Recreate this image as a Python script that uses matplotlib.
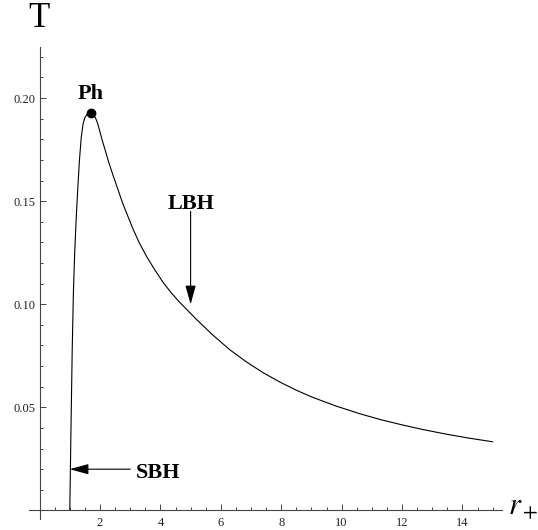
import matplotlib
matplotlib.use("Agg")
import matplotlib.pyplot as plt
from matplotlib.ticker import FixedLocator, FuncFormatter

plt.rcParams['font.family'] = ['Liberation Serif', 'DejaVu Serif']
plt.rcParams['mathtext.fontset'] = 'stix'

# Hawking temperature T against horizon radius r_+
r_plus = [1.00, 1.04, 1.08, 1.12, 1.16, 1.21, 1.26, 1.32, 1.38, 1.44, 1.50,
          1.57, 1.63, 1.70, 1.77, 1.85, 1.92, 2.00, 2.07, 2.15, 2.28, 2.43,
          2.76, 3.09, 3.30, 3.53, 3.80, 4.08, 4.36, 4.64, 5.19, 5.74, 6.30,
          6.84, 7.40, 7.95, 8.50, 9.05, 9.80, 10.60, 11.30, 12.00, 12.70,
          13.50, 14.20, 15.00]
temp = [0.000, 0.040, 0.078, 0.106, 0.124, 0.141, 0.155, 0.170, 0.181, 0.1875, 0.1905,
        0.1921, 0.1927, 0.1928, 0.1923, 0.1904, 0.1878, 0.1835, 0.1797, 0.1758, 0.1693, 0.1626,
        0.1486, 0.1366, 0.1298, 0.1235, 0.1170, 0.1108, 0.1055, 0.1009, 0.0927, 0.0850, 0.0779,
        0.0721, 0.0668, 0.0623, 0.0583, 0.0548, 0.0507, 0.0469, 0.0440, 0.0415, 0.0392,
        0.0369, 0.0351, 0.0333]

peak = (1.70, 0.1928)
lbh_tip, lbh_tail = (5.0, 0.100), (5.0, 0.145)
sbh_tip, sbh_tail = (1.0, 0.020), (3.0, 0.020)

x_major = [2, 4, 6, 8, 10, 12, 14]
x_minor = [0.5 * i for i in range(1, 31)]
y_major = [0.05, 0.10, 0.15, 0.20]
y_minor = [0.01 * i for i in range(1, 23)]

fig = plt.figure(figsize=(5.38, 5.30), dpi=100)
ax = fig.add_axes([0.0545, 0.0202, 0.878, 0.8917])

ax.plot(r_plus, temp, color='black', lw=0.8)
ax.plot(*peak, 'o', color='black', ms=6)

ax.set_xlim(-0.34, 15.30)
ax.set_ylim(-0.0043, 0.2249)

for side in ('top', 'right'):
    ax.spines[side].set_visible(False)
for side in ('left', 'bottom'):
    ax.spines[side].set_position(('data', 0))
    ax.spines[side].set_color('#444444')
    ax.spines[side].set_linewidth(0.8)

ax.xaxis.set_major_locator(FixedLocator(x_major))
ax.xaxis.set_minor_locator(FixedLocator(x_minor))
ax.yaxis.set_major_locator(FixedLocator(y_major))
ax.yaxis.set_minor_locator(FixedLocator(y_minor))
ax.yaxis.set_major_formatter(FuncFormatter(lambda v, p: f'{v:.2f}'))
ax.tick_params(which='both', direction='in', color='#444444', width=0.7,
               labelsize=9, labelcolor='#222222')
ax.tick_params(which='major', length=4.3)
ax.tick_params(which='minor', length=2.5)
ax.tick_params(axis='x', pad=5)
ax.tick_params(axis='y', pad=3.2)

arrow = dict(arrowstyle='-|>,head_length=0.72,head_width=0.2', mutation_scale=16,
             color='black', lw=0.8, shrinkA=0, shrinkB=0)
ax.annotate('', xy=lbh_tip, xytext=lbh_tail, arrowprops=arrow)
ax.annotate('', xy=sbh_tip, xytext=sbh_tail, arrowprops=arrow)

ax.text(peak[0] - 0.01, 0.1995, 'Ph', fontsize=16, fontweight='bold', ha='center', va='baseline')
ax.text(5.0, 0.1464, 'LBH', fontsize=16, fontweight='bold', ha='center', va='baseline')
ax.text(3.17, 0.0155, 'SBH', fontsize=16, fontweight='bold', ha='left', va='baseline')

fig.text(39.2 / 538, 1 - 18.3 / 530, 'T', fontsize=25, ha='center', va='center')
fig.text(508 / 538, 1 - 515 / 530, r'$r_+$', fontsize=22, ha='left', va='baseline')

fig.savefig('out.png', dpi=100)
